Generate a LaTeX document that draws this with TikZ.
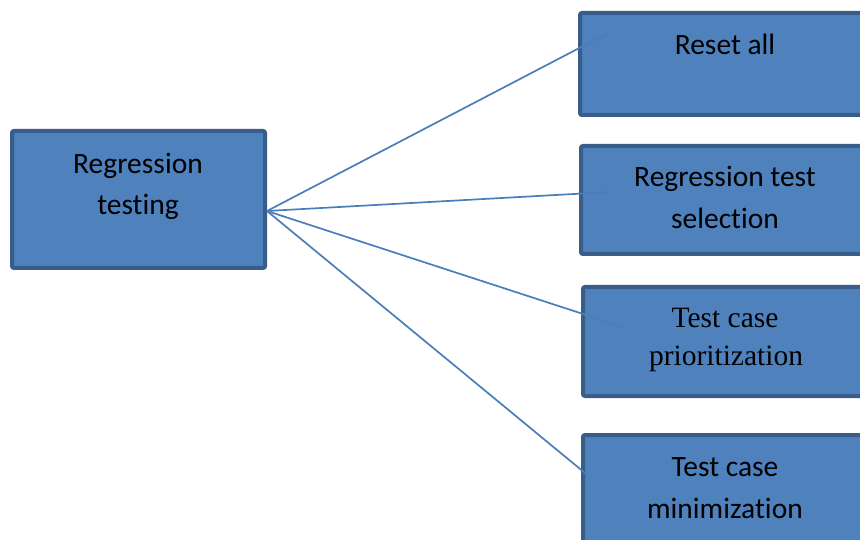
\documentclass[tikz,border=0pt]{standalone}
\usepackage{fontspec}
\setmainfont{Carlito}[Ligatures=NoCommon]
\newfontfamily\timesf{Liberation Serif}
\definecolor{boxfill}{HTML}{4F81BD}
\definecolor{boxline}{HTML}{385D8A}
\definecolor{conn}{HTML}{4A7EBB}
\begin{document}
\begin{tikzpicture}[x=1pt,y=-1pt,
  box/.style={draw=boxline,fill=boxfill,line width=4pt,rounded corners=2pt,inner sep=0pt},
  txt/.style={anchor=base,inner sep=0pt,font=\fontsize{29.5}{35}\selectfont,text=black},
  ttxt/.style={txt,font=\fontsize{29.5}{35}\selectfont\timesf},
  conline/.style={draw=conn,line width=1.7pt}]
\useasboundingbox (0,0) rectangle (860,540);
\clip (0,0) rectangle (860,540);
\fill[white] (0,0) rectangle (860,540);
% boxes
\node[box,minimum width=253pt,minimum height=137pt] (rt) at (138.5,199.5) {};
\node[box,minimum width=290pt,minimum height=102pt] (ra) at (725,64) {};
\node[box,minimum width=288pt,minimum height=108pt] (rts) at (725,200) {};
\node[box,minimum width=284pt,minimum height=109pt] (tcp) at (725,341.5) {};
\node[box,minimum width=284pt,minimum height=110pt] (tcm) at (725,490) {};
% texts
\node[txt] (rt1) at (138,174) {Regression};
\node[txt] (rt2) at (138,215) {testing};
\node[txt] (ra1) at (725,55) {Reset all};
\node[txt] (rts1) at (725,187) {Regression test};
\node[txt] (rts2) at (725,229) {selection};
\node[ttxt] (tcp1) at (725,327) {Test case};
\node[ttxt] (tcp2) at (726,365) {prioritization};
\node[txt] (tcm1) at (725,476) {Test case};
\node[txt] (tcm2) at (725,518) {minimization};
% connectors
\coordinate (src) at (267,211);
\coordinate (e1) at (610,32);
\coordinate (e2) at (610,192);
\coordinate (e3) at (623,327);
\coordinate (e4) at (585,473);
\draw[conline] (src) -- (e1);
\draw[conline] (src) -- (e2);
\draw[conline] (src) -- (e3);
\draw[conline] (src) -- (e4);
\end{tikzpicture}
\end{document}
